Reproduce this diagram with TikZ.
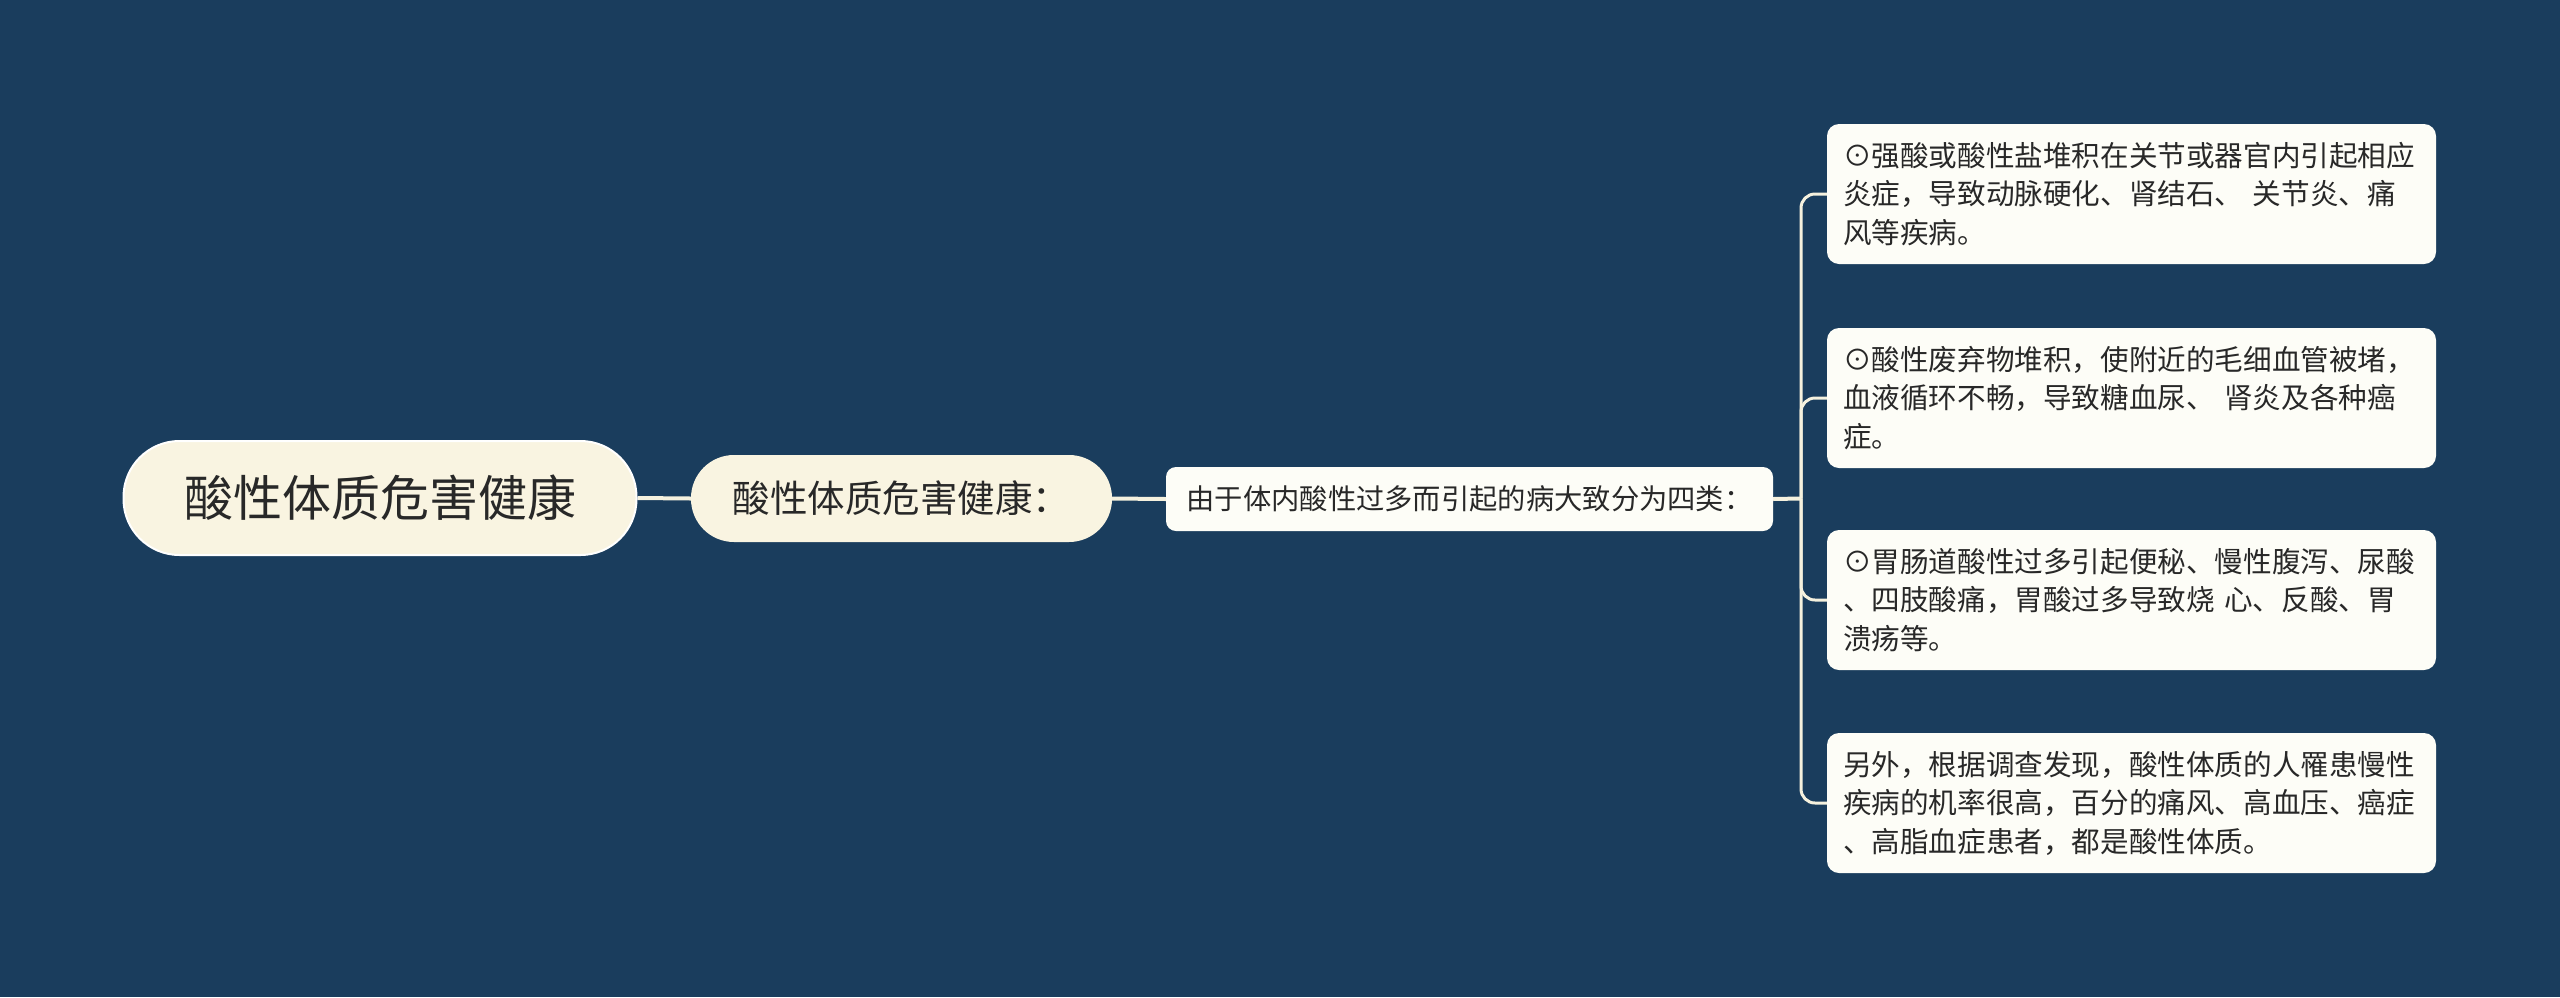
\documentclass[tikz,border=0pt]{standalone}
\usepackage{fontspec}
\setmainfont{Noto Sans CJK SC}
\usetikzlibrary{backgrounds}
\definecolor{bg}{RGB}{26,61,93}
\definecolor{cream}{RGB}{249,244,225}
\definecolor{paper}{RGB}{253,253,247}
\definecolor{ink}{RGB}{40,40,40}
\definecolor{wire}{RGB}{245,241,222}
\tikzset{
  rootbox/.style={fill=cream, draw=white, line width=2pt, rounded corners=56pt, minimum width=513pt, minimum height=114pt, inner sep=0pt, text=ink, font=\fontsize{49}{56}\selectfont},
  subbox/.style={fill=cream, draw=none, rounded corners=43pt, minimum width=421pt, minimum height=87pt, inner sep=0pt, text=ink, font=\fontsize{37.5}{44}\selectfont},
  midbox/.style={fill=paper, draw=none, rounded corners=10pt, minimum width=607pt, minimum height=64pt, inner sep=0pt, text=ink, font=\fontsize{28.3}{36}\selectfont},
  leafbox/.style={fill=paper, draw=none, rounded corners=12pt, minimum width=609pt, minimum height=140pt, inner sep=0pt, text width=577pt, align=left, text=ink, font=\fontsize{28.6}{38.5}\selectfont},
  mainwire/.style={draw=wire, line width=4pt},
  branchwire/.style={draw=wire, line width=3pt, rounded corners=14pt},
}
\begin{document}
\begin{tikzpicture}[x=1pt,y=-1pt]
\useasboundingbox (0,0) rectangle (2560,997);

\node[rootbox] (root) at (380,498) {酸性体质危害健康};
\node[subbox] (sub) at (901.5,498.5) {酸性体质危害健康：};
\node[midbox] (mid) at (1469.5,499) {由于体内酸性过多而引起的病大致分为四类：};

\node[leafbox] (l1) at (2131.5,194) {⊙强酸或酸性盐堆积在关节或器官内引起相应\\炎症，导致动脉硬化、肾结石、 关节炎、痛\\风等疾病。};
\node[leafbox] (l2) at (2131.5,398) {⊙酸性废弃物堆积，使附近的毛细血管被堵，\\血液循环不畅，导致糖血尿、 肾炎及各种癌\\症。};
\node[leafbox] (l3) at (2131.5,600) {⊙胃肠道酸性过多引起便秘、慢性腹泻、尿酸\\、四肢酸痛，胃酸过多导致烧 心、反酸、胃\\溃疡等。};
\node[leafbox] (l4) at (2131.5,803) {另外，根据调查发现，酸性体质的人罹患慢性\\疾病的机率很高，百分的痛风、高血压、癌症\\、高脂血症患者，都是酸性体质。};

\coordinate (bus) at (1801,498.5);

\begin{scope}[on background layer]
\fill[bg] (0,0) rectangle (2560,997);
\draw[mainwire] (root.east) -- (sub.west);
\draw[mainwire] (sub.east) -- (mid.west);
\draw[mainwire] (mid.east) -- (bus);
\draw[branchwire] (bus) |- (l1.west);
\draw[branchwire] (bus) |- (l2.west);
\draw[branchwire] (bus) |- (l3.west);
\draw[branchwire] (bus) |- (l4.west);
\end{scope}
\end{tikzpicture}
\end{document}
